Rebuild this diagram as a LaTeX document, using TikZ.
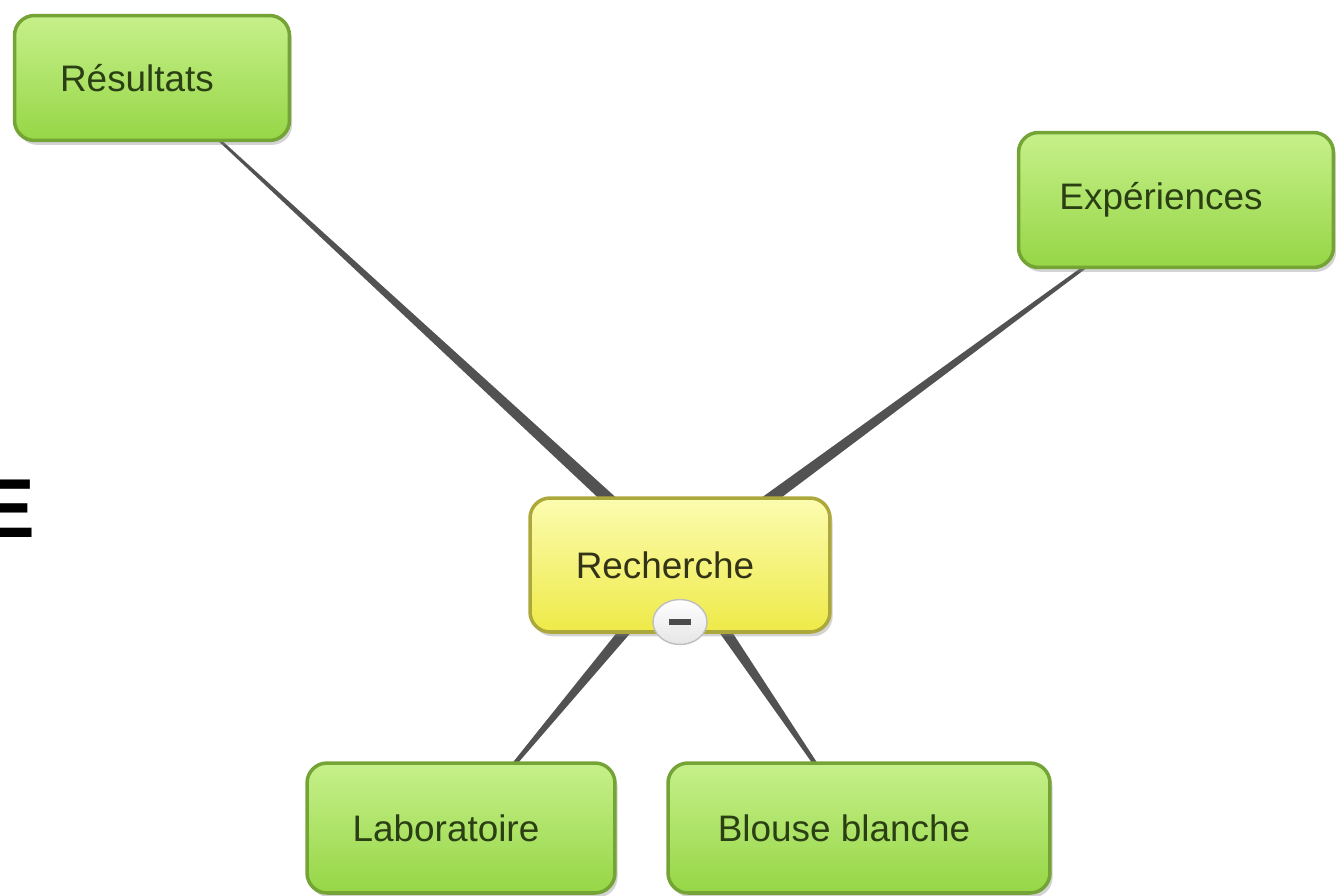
\documentclass[tikz,border=0pt]{standalone}
\usepackage{fontspec}
\setmainfont{Liberation Sans}
\usetikzlibrary{calc,shadows,backgrounds,shapes.geometric}

\definecolor{leaftop}{HTML}{C6F08A}
\definecolor{leafbot}{HTML}{96D646}
\definecolor{leafline}{HTML}{74A436}
\definecolor{leaftext}{HTML}{2B3F14}
\definecolor{roottop}{HTML}{FCFCB0}
\definecolor{rootbot}{HTML}{EEEA48}
\definecolor{rootline}{HTML}{ADA83C}
\definecolor{roottext}{HTML}{333318}
\definecolor{linkgray}{HTML}{525252}

% tapered branch: thin at the child, wide at the parent
\newcommand{\branch}[2]{%
  \fill[link] ($(#2)!0.3pt!90:(#1)$) -- ($(#1)!4pt!-90:(#2)$)
    -- ($(#1)!4pt!90:(#2)$) -- ($(#2)!0.3pt!-90:(#1)$) -- cycle;}

\begin{document}
\begin{tikzpicture}[x=0.02cm, y=-0.02cm]
		\tikzset{
			leaf/.style={draw=leafline, line width=2pt, rounded corners=0.4cm,
				top color=leaftop, bottom color=leafbot, text=leaftext,
				font=\fontsize{21}{25}\selectfont,
				drop shadow={opacity=0.35, shadow xshift=1.5pt, shadow yshift=-2.5pt},
				execute at end node=\hspace*{0.6cm}},
			root/.style={leaf, draw=rootline, top color=roottop, bottom color=rootbot, text=roottext},
			toggle/.style={ellipse, draw=black!25, line width=0.8pt, top color=white, bottom color=black!10,
				minimum width=1.08cm, minimum height=0.9cm, inner sep=0pt, text=black!70},
			link/.style={fill=linkgray},
		}
		\useasboundingbox (0,0) rectangle (1336,896);

		% the cut-off letter at the left edge
		\node[anchor=base west, inner sep=0pt, font=\fontsize{47.6}{50}\selectfont\bfseries] (cut) at (-21,537) {E};

		% Place the topics.
		\node[leaf, minimum width=5.5cm, minimum height=2.5cm] (res) at (152,78) {Résultats};
		\node[leaf, minimum width=6.3cm, minimum height=2.7cm] (exp) at (1176,200) {Expériences};
		\node[root, minimum width=6cm, minimum height=2.68cm] (rec) at (680,565) {Recherche};
		\node[leaf, minimum width=6.16cm, minimum height=2.6cm] (lab) at (461,828) {Laboratoire};
		\node[leaf, minimum width=7.64cm, minimum height=2.6cm] (blo) at (859,828) {Blouse blanche};
		\node[toggle] (minus) at (680,622) {\rule{0.44cm}{0.13cm}};

		% Draw the branches behind the boxes.
		\begin{pgfonlayer}{background}
			\branch{rec}{res}
			\branch{rec}{exp}
			\branch{rec}{lab}
			\branch{rec}{blo}
		\end{pgfonlayer}
	\end{tikzpicture}
\end{document}
